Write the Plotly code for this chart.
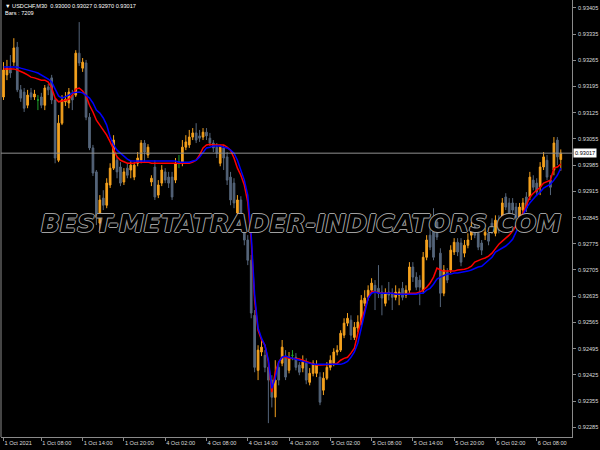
import plotly.graph_objects as go

symbol = "USDCHF,M30"
bars_total = 7209

open_ = [
0.93167,0.93226,0.93244,0.93260,0.93300,0.93186,0.93180,0.93145,0.93178,0.93167,
0.93159,0.93167,0.93145,0.93194,0.93218,0.93159,0.92998,0.93097,0.93154,0.93151,
0.93172,0.93172,0.93284,0.93244,0.93258,0.93113,0.93031,0.92967,0.92830,0.92897,
0.92878,0.92932,0.92977,0.92998,0.92980,0.92940,0.92977,0.92972,0.92953,0.92990,
0.92998,0.93044,0.93012,0.92940,0.92980,0.92905,0.92937,0.92967,0.92953,0.92953,
0.92945,0.92993,0.92990,0.93033,0.93039,0.93060,0.93071,0.93063,0.93060,0.93073,
0.93057,0.93044,0.93033,0.92990,0.93031,0.93007,0.92953,0.92937,0.92857,0.92892,
0.92820,0.92785,0.92731,0.92584,0.92437,0.92486,0.92477,0.92445,0.92411,0.92365,
0.92445,0.92456,0.92472,0.92437,0.92477,0.92472,0.92451,0.92443,0.92456,0.92405,
0.92429,0.92429,0.92419,0.92384,0.92416,0.92445,0.92456,0.92486,0.92491,0.92531,
0.92563,0.92571,0.92525,0.92550,0.92566,0.92616,0.92632,0.92651,0.92664,0.92656,
0.92646,0.92616,0.92646,0.92643,0.92632,0.92638,0.92656,0.92638,0.92651,0.92713,
0.92686,0.92678,0.92651,0.92739,0.92798,0.92825,0.92833,0.92750,0.92643,0.92699,
0.92705,0.92753,0.92779,0.92777,0.92750,0.92771,0.92798,0.92820,0.92803,0.92777,
0.92798,0.92803,0.92830,0.92803,0.92838,0.92830,0.92900,0.92884,0.92884,0.92873,
0.92846,0.92865,0.92900,0.92900,0.92945,0.92937,0.92926,0.92980,0.92998,0.92945,
0.92972,0.93052,0.93000]

high = [
0.93260,0.93266,0.93279,0.93324,0.93314,0.93199,0.93191,0.93186,0.93191,0.93186,
0.93172,0.93178,0.93199,0.93202,0.93226,0.93164,0.93119,0.93172,0.93180,0.93191,
0.93186,0.93292,0.93367,0.93271,0.93266,0.93124,0.93039,0.92972,0.92905,0.92918,
0.92950,0.92990,0.93065,0.93009,0.92993,0.92977,0.92988,0.92998,0.92993,0.93020,
0.93052,0.93052,0.93041,0.92958,0.92998,0.92945,0.92985,0.92977,0.92967,0.92967,
0.93004,0.93012,0.93052,0.93065,0.93079,0.93084,0.93097,0.93079,0.93084,0.93084,
0.93071,0.93052,0.93044,0.93039,0.93039,0.93020,0.92967,0.92950,0.92905,0.92902,
0.92833,0.92798,0.92745,0.92598,0.92504,0.92518,0.92491,0.92459,0.92424,0.92464,
0.92459,0.92518,0.92491,0.92486,0.92491,0.92483,0.92459,0.92477,0.92469,0.92443,
0.92464,0.92464,0.92432,0.92432,0.92459,0.92477,0.92496,0.92504,0.92544,0.92576,
0.92590,0.92584,0.92566,0.92584,0.92638,0.92651,0.92664,0.92683,0.92678,0.92718,
0.92664,0.92656,0.92673,0.92656,0.92664,0.92656,0.92673,0.92664,0.92726,0.92726,
0.92699,0.92691,0.92753,0.92798,0.92817,0.92870,0.92851,0.92763,0.92718,0.92710,
0.92771,0.92790,0.92790,0.92790,0.92785,0.92803,0.92833,0.92833,0.92817,0.92785,
0.92817,0.92817,0.92843,0.92851,0.92851,0.92897,0.92910,0.92897,0.92897,0.92884,
0.92884,0.92897,0.92913,0.92967,0.92958,0.92950,0.92993,0.93020,0.93012,0.92958,
0.93060,0.93060,0.93027]

low = [
0.93159,0.93212,0.93218,0.93250,0.93180,0.93154,0.93127,0.93137,0.93159,0.93159,
0.93132,0.93137,0.93132,0.93172,0.93148,0.92990,0.92993,0.93092,0.93143,0.93137,
0.93132,0.93167,0.93250,0.93234,0.93105,0.93025,0.92956,0.92825,0.92803,0.92865,
0.92870,0.92924,0.92972,0.92950,0.92929,0.92932,0.92950,0.92950,0.92945,0.92982,
0.92990,0.92993,0.93004,0.92929,0.92892,0.92897,0.92929,0.92937,0.92924,0.92892,
0.92937,0.92977,0.92982,0.93025,0.93031,0.93052,0.93044,0.93047,0.93052,0.93052,
0.93036,0.93020,0.93004,0.92982,0.92972,0.92932,0.92878,0.92870,0.92849,0.92843,
0.92771,0.92718,0.92576,0.92432,0.92411,0.92475,0.92432,0.92296,0.92338,0.92312,
0.92397,0.92448,0.92411,0.92429,0.92464,0.92437,0.92424,0.92432,0.92400,0.92397,
0.92421,0.92419,0.92344,0.92371,0.92411,0.92437,0.92448,0.92477,0.92486,0.92523,
0.92555,0.92518,0.92518,0.92539,0.92558,0.92608,0.92624,0.92643,0.92598,0.92630,
0.92584,0.92608,0.92624,0.92598,0.92624,0.92611,0.92624,0.92630,0.92643,0.92673,
0.92651,0.92611,0.92643,0.92731,0.92758,0.92731,0.92785,0.92606,0.92635,0.92670,
0.92697,0.92745,0.92742,0.92715,0.92739,0.92763,0.92785,0.92790,0.92758,0.92745,
0.92785,0.92771,0.92801,0.92795,0.92803,0.92822,0.92865,0.92849,0.92854,0.92838,
0.92838,0.92857,0.92860,0.92892,0.92918,0.92902,0.92905,0.92972,0.92945,0.92905,
0.92958,0.92985,0.92970]

close = [
0.93239,0.93244,0.93231,0.93298,0.93186,0.93164,0.93137,0.93172,0.93167,0.93175,
0.93159,0.93145,0.93191,0.93186,0.93159,0.93004,0.93097,0.93159,0.93161,0.93180,
0.93159,0.93284,0.93258,0.93260,0.93113,0.93031,0.92964,0.92846,0.92892,0.92878,
0.92937,0.92977,0.93052,0.92967,0.92937,0.92967,0.92958,0.92985,0.92985,0.93004,
0.93044,0.93020,0.93033,0.92950,0.92900,0.92932,0.92972,0.92945,0.92937,0.92900,
0.92990,0.92993,0.93033,0.93047,0.93060,0.93071,0.93052,0.93057,0.93073,0.93063,
0.93044,0.93031,0.93017,0.93033,0.93004,0.92945,0.92892,0.92884,0.92892,0.92857,
0.92785,0.92731,0.92590,0.92445,0.92491,0.92499,0.92445,0.92411,0.92365,0.92411,
0.92411,0.92499,0.92419,0.92472,0.92477,0.92445,0.92432,0.92459,0.92411,0.92429,
0.92456,0.92451,0.92352,0.92416,0.92445,0.92464,0.92486,0.92491,0.92536,0.92563,
0.92576,0.92531,0.92552,0.92566,0.92624,0.92630,0.92651,0.92670,0.92646,0.92643,
0.92630,0.92643,0.92638,0.92632,0.92646,0.92646,0.92632,0.92651,0.92713,0.92686,
0.92659,0.92659,0.92739,0.92785,0.92766,0.92739,0.92793,0.92643,0.92705,0.92678,
0.92758,0.92779,0.92753,0.92726,0.92771,0.92785,0.92820,0.92798,0.92766,0.92758,
0.92806,0.92782,0.92811,0.92838,0.92811,0.92884,0.92873,0.92857,0.92865,0.92846,
0.92873,0.92884,0.92870,0.92953,0.92926,0.92913,0.92980,0.93007,0.92953,0.92926,
0.93044,0.93007,0.93017]

red_line = [
0.93242,0.93242,0.93242,0.93242,0.93239,0.93236,0.93231,0.93226,0.93220,0.93218,
0.93215,0.93212,0.93212,0.93207,0.93191,0.93164,0.93154,0.93156,0.93159,0.93161,
0.93172,0.93188,0.93191,0.93183,0.93170,0.93145,0.93127,0.93105,0.93092,0.93079,
0.93065,0.93047,0.93025,0.93007,0.92998,0.92993,0.92990,0.92990,0.92990,0.92993,
0.92993,0.92993,0.92993,0.92990,0.92990,0.92990,0.92990,0.92990,0.92990,0.92990,
0.92990,0.92988,0.92988,0.92988,0.92990,0.92993,0.92998,0.93012,0.93031,0.93039,
0.93041,0.93039,0.93039,0.93039,0.93039,0.93033,0.93025,0.93004,0.92977,0.92958,
0.92932,0.92886,0.92785,0.92624,0.92544,0.92518,0.92504,0.92459,0.92379,0.92432,
0.92459,0.92472,0.92472,0.92469,0.92469,0.92467,0.92467,0.92464,0.92461,0.92456,
0.92453,0.92451,0.92451,0.92451,0.92451,0.92451,0.92453,0.92456,0.92464,0.92469,
0.92472,0.92483,0.92496,0.92536,0.92571,0.92598,0.92630,0.92648,0.92646,0.92643,
0.92643,0.92643,0.92643,0.92643,0.92640,0.92640,0.92640,0.92640,0.92643,0.92643,
0.92643,0.92646,0.92651,0.92659,0.92670,0.92686,0.92710,0.92705,0.92702,0.92702,
0.92702,0.92702,0.92705,0.92705,0.92707,0.92710,0.92715,0.92726,0.92731,0.92734,
0.92737,0.92742,0.92750,0.92763,0.92774,0.92782,0.92790,0.92798,0.92809,0.92822,
0.92838,0.92857,0.92878,0.92900,0.92910,0.92918,0.92926,0.92937,0.92942,0.92945,
0.92977,0.92980,0.92988]

blue_line = [
0.93247,0.93247,0.93247,0.93247,0.93247,0.93244,0.93242,0.93239,0.93236,0.93234,
0.93231,0.93226,0.93220,0.93215,0.93207,0.93186,0.93170,0.93164,0.93167,0.93172,
0.93178,0.93180,0.93180,0.93178,0.93172,0.93164,0.93151,0.93132,0.93124,0.93111,
0.93092,0.93060,0.93039,0.93025,0.93017,0.93009,0.93001,0.92996,0.92996,0.92996,
0.92996,0.92996,0.92996,0.92996,0.92996,0.92996,0.92996,0.92996,0.92996,0.92996,
0.92996,0.92993,0.92993,0.92993,0.92993,0.92996,0.92998,0.93007,0.93020,0.93031,
0.93033,0.93036,0.93036,0.93036,0.93033,0.93031,0.93025,0.93017,0.92998,0.92972,
0.92945,0.92905,0.92798,0.92638,0.92550,0.92523,0.92504,0.92464,0.92389,0.92416,
0.92459,0.92472,0.92475,0.92472,0.92469,0.92467,0.92464,0.92461,0.92459,0.92456,
0.92453,0.92453,0.92453,0.92453,0.92453,0.92451,0.92451,0.92451,0.92453,0.92456,
0.92461,0.92472,0.92486,0.92510,0.92550,0.92592,0.92630,0.92643,0.92646,0.92643,
0.92643,0.92643,0.92643,0.92643,0.92640,0.92640,0.92640,0.92640,0.92640,0.92640,
0.92640,0.92643,0.92643,0.92651,0.92656,0.92667,0.92681,0.92686,0.92691,0.92694,
0.92694,0.92697,0.92697,0.92699,0.92699,0.92702,0.92705,0.92710,0.92713,0.92715,
0.92723,0.92729,0.92739,0.92753,0.92758,0.92763,0.92769,0.92777,0.92787,0.92806,
0.92825,0.92851,0.92870,0.92884,0.92895,0.92905,0.92913,0.92924,0.92929,0.92934,
0.92945,0.92958,0.92977]

tick_bars = [0, 11, 23, 35, 47, 59, 71, 83, 95, 107, 119, 131, 143, 155]
tick_labels = ["1 Oct 2021", "1 Oct 08:00", "1 Oct 14:00", "1 Oct 20:00",
               "4 Oct 02:00", "4 Oct 08:00", "4 Oct 14:00", "4 Oct 20:00",
               "5 Oct 02:00", "5 Oct 08:00", "5 Oct 14:00", "5 Oct 20:00",
               "6 Oct 02:00", "6 Oct 08:00"]
price_ticks = [0.92285, 0.92355, 0.92425, 0.92495, 0.92565, 0.92635, 0.92705,
               0.92775, 0.92845, 0.92915, 0.92985, 0.93055, 0.93125, 0.93195,
               0.93265, 0.93335, 0.93405]
watermark = "BEST-METATRADER-INDICATORS.COM"

ORANGE = "#F5A21E"
SLATE = "#55657A"
DOJI = "#1FA02A"
AXIS = "#8a8a8a"
TXT = "#dcdcdc"
FONT = "Liberation Sans"
SMALL = 5.6

n = len(close)
bars = list(range(n))
main_idx = [i for i in bars if open_[i] != close[i]]
doji_idx = [i for i in bars if open_[i] == close[i]]

def pick(arr, idx):
    return [arr[i] for i in idx]

fig = go.Figure()
fig.add_trace(go.Candlestick(
    x=main_idx, open=pick(open_, main_idx), high=pick(high, main_idx),
    low=pick(low, main_idx), close=pick(close, main_idx),
    increasing=dict(line=dict(color=ORANGE, width=1), fillcolor=ORANGE),
    decreasing=dict(line=dict(color=SLATE, width=1), fillcolor=SLATE),
    whiskerwidth=0, showlegend=False, hoverinfo="skip"))
fig.add_trace(go.Candlestick(
    x=doji_idx, open=pick(open_, doji_idx), high=pick(high, doji_idx),
    low=pick(low, doji_idx), close=pick(close, doji_idx),
    increasing=dict(line=dict(color=DOJI, width=1), fillcolor=DOJI),
    decreasing=dict(line=dict(color=DOJI, width=1), fillcolor=DOJI),
    whiskerwidth=0, showlegend=False, hoverinfo="skip"))
fig.add_trace(go.Scatter(x=bars, y=red_line, mode="lines",
                         line=dict(color="#ff0000", width=1.5), showlegend=False))
fig.add_trace(go.Scatter(x=bars, y=blue_line, mode="lines",
                         line=dict(color="#0000ff", width=1.5), showlegend=False))

last = n - 1
fig.add_shape(type="line", xref="paper", x0=0, x1=1, yref="y",
              y0=close[last], y1=close[last], line=dict(color="#909090", width=1))
fig.add_shape(type="line", xref="paper", x0=0, x1=0, yref="paper", y0=0, y1=1,
              line=dict(color=AXIS, width=1))

fig.add_annotation(
    xref="paper", yref="paper", x=0.003, y=0.997, xanchor="left", yanchor="top",
    showarrow=False, align="left",
    text=f"\u25bc {symbol}  {open_[last]:.5f} {high[last]:.5f} {low[last]:.5f} {close[last]:.5f}<br>Bars : {bars_total}",
    font=dict(family=FONT, size=SMALL, color="#ffffff"))
fig.add_annotation(
    xref="paper", yref="y", x=1, y=close[last], xanchor="left", yanchor="middle",
    xshift=1, showarrow=False, text=f"{close[last]:.5f}", bgcolor="#ffffff",
    borderpad=1, font=dict(family=FONT, size=SMALL, color="#000000"))
fig.add_annotation(
    xref="paper", yref="y", x=0.525, y=0.92830, xanchor="center", yanchor="middle",
    showarrow=False, text=watermark,
    font=dict(family="DejaVu Sans", size=25, color="#000000", style="italic",
              weight="bold",
              shadow="1px 0 0 #a0a0a0, -1px 0 0 #a0a0a0, 0 1px 0 #a0a0a0, 0 -1px 0 #a0a0a0"))

fig.update_layout(
    width=600, height=450, paper_bgcolor="#000000", plot_bgcolor="#000000",
    margin=dict(l=1, r=28, t=0, b=13), showlegend=False,
    xaxis=dict(range=[-0.73, 165.26], showgrid=False, zeroline=False,
               rangeslider=dict(visible=False), tickvals=tick_bars,
               ticktext=tick_labels, ticklabelposition="outside right",
               tickangle=0, ticks="outside", ticklen=3, tickcolor=AXIS,
               showline=True, linecolor=AXIS, ticklabelstandoff=0,
               tickfont=dict(family=FONT, size=SMALL, color=TXT)),
    yaxis=dict(range=[0.92259, 0.93426], side="right", showgrid=False,
               zeroline=False, tickvals=price_ticks,
               ticktext=[f"{v:.5f}" for v in price_ticks], ticks="outside",
               ticklen=3, tickcolor=AXIS, showline=True, linecolor=AXIS,
               ticklabelstandoff=1,
               tickfont=dict(family=FONT, size=SMALL, color=TXT)),
)

fig.write_html("out.html", config={"displayModeBar": False},
               post_script="document.body.style.margin='0';"
                           "document.body.style.background='#000';")
